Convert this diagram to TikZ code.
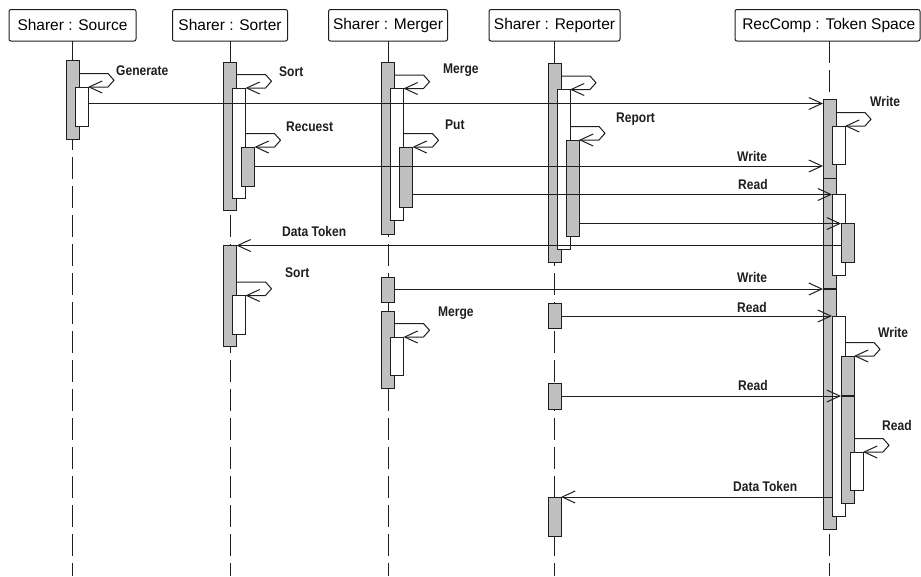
\documentclass[tikz,border=0pt]{standalone}
\usepackage{fontspec}
\setmainfont{Liberation Sans}
\newfontfamily\lblfont[FakeStretch=0.86]{Liberation Sans}
\usetikzlibrary{arrows.meta}
\definecolor{barfill}{RGB}{192,192,192}
\definecolor{ink}{RGB}{30,30,30}
\begin{document}
\begin{tikzpicture}[x=1pt,y=-1pt,
  lane/.style={draw=ink, line width=1pt, rounded corners=2pt, fill=white, minimum height=31.5pt, inner sep=0pt, outer sep=0pt, font=\fontsize{15.5}{18}\selectfont},
  gbar/.style={draw=ink, line width=1pt, fill=barfill, minimum width=13pt, inner sep=0pt, outer sep=0pt, anchor=north west},
  wbar/.style={gbar, fill=white},
  msg/.style={draw=ink, line width=1pt, -{Straight Barb[length=13pt,width=12pt]}},
  life/.style={draw=ink, line width=1pt, dash pattern=on 22pt off 7pt},
  solidlife/.style={draw=ink, line width=1pt},
  lbl/.style={anchor=base west, inner sep=0pt, font=\lblfont\bfseries\fontsize{14}{16}\selectfont, text=ink}]
\useasboundingbox (0,0) rectangle (921,576);

% headers
\node[lane, minimum width=127pt] (HS) at (72.5,25.25) {Sharer : Source};
\node[lane, minimum width=115pt] (HT) at (230,25.25) {Sharer : Sorter};
\node[lane, minimum width=119pt] (HM) at (388,25.25) {Sharer : Merger};
\node[lane, minimum width=131pt] (HR) at (554.5,25.25) {Sharer : Reporter};
\node[lane, minimum width=185pt] (HK) at (827.5,25.25) {};
\node[font=\fontsize{15.5}{18}\selectfont, inner sep=0pt] (HKt) at (828.7,25.25) {RecComp : Token Space};

% lifelines
\draw[life] (HS.south) -- (HS.south |- 0,576);
\draw[life] (HT.south) -- (HT.south |- 0,576);
\draw[life] (HM.south) -- (HM.south |- 0,576);
\draw[life] (HR.south) -- (HR.south |- 0,576);
\draw[life] (HK.south -| 829.5,0) -- (829.5,576);

% activation bars
\node[gbar, minimum height=79pt] (S1) at (66,60) {};
\node[wbar, minimum height=39pt] (S2) at (75,87) {};

\node[gbar, minimum height=148pt] (T1) at (223.5,62) {};
\node[wbar, minimum height=110pt] (T2) at (232.5,88) {};
\node[gbar, minimum height=39pt] (T3) at (241.5,147) {};
\node[gbar, minimum height=101pt] (T4) at (223.5,245.5) {};
\node[wbar, minimum height=39pt] (T5) at (232.5,295.5) {};

\node[gbar, minimum height=172pt] (M1) at (381.5,62) {};
\node[wbar, minimum height=132pt] (M2) at (390.5,88.5) {};
\node[gbar, minimum height=60pt] (M3) at (399.5,147) {};
\node[gbar, minimum height=25pt] (M4) at (381.5,277) {};
\node[gbar, minimum height=77pt] (M5) at (381.5,311) {};
\node[wbar, minimum height=38pt] (M6) at (390.5,337) {};

\node[gbar, minimum height=199pt] (R1) at (548,63) {};
\node[wbar, minimum height=160pt] (R2) at (557,89.5) {};
\node[gbar, minimum height=96pt] (R3) at (566,140) {};
\node[gbar, minimum height=25pt] (R4) at (548,303) {};
\node[gbar, minimum height=26pt] (R5) at (548,383) {};
\node[gbar, minimum height=39pt] (R6) at (548,497) {};

\node[gbar, minimum height=78.5pt] (K1) at (823,99.5) {};
\node[wbar, minimum height=38pt] (K2) at (832,126) {};
\node[gbar, minimum height=111pt] (K3) at (823,178) {};
\node[wbar, minimum height=81pt] (K4) at (832,194.5) {};
\node[gbar, minimum height=39pt] (K5) at (841,223.5) {};
\node[gbar, minimum height=240pt] (K6) at (823,289) {};
\node[wbar, minimum height=200pt] (K7) at (832,316) {};
\node[gbar, minimum height=40pt] (K8a) at (841,356) {};
\node[gbar, minimum height=107pt] (K8b) at (841,396) {};
\node[wbar, minimum height=38pt] (K9) at (850,452) {};
\draw[ink, line width=1.8pt] (K6.north west) -- (K6.north east);
\draw[ink, line width=1.8pt] (K8b.north west) -- (K8b.north east);

% solid lifeline parts above first bars
\draw[solidlife] (HS.south) -- (S1.north);
\draw[solidlife] (HT.south) -- (T1.north);
\draw[solidlife] (HM.south) -- (M1.north);
\draw[solidlife] (HR.south) -- (R1.north);

% self messages
\draw[msg] (S1.east |- 0,73.5) -- ++(29,0) -- ++(6,6.75) -- ++(-6,6.75) -- (S2.north east);
\draw[msg] (T1.east |- 0,74.5) -- ++(29,0) -- ++(6,6.75) -- ++(-6,6.75) -- (T2.north east);
\draw[msg] (T2.east |- 0,133.5) -- ++(29,0) -- ++(6,6.75) -- ++(-6,6.75) -- (T3.north east);
\draw[msg] (M1.east |- 0,75) -- ++(29,0) -- ++(6,6.75) -- ++(-6,6.75) -- (M2.north east);
\draw[msg] (M2.east |- 0,133.5) -- ++(29,0) -- ++(6,6.75) -- ++(-6,6.75) -- (M3.north east);
\draw[msg] (R1.east |- 0,76) -- ++(29,0) -- ++(6,6.75) -- ++(-6,6.75) -- (R2.north east);
\draw[msg] (R2.east |- 0,126.5) -- ++(29,0) -- ++(6,6.75) -- ++(-6,6.75) -- (R3.north east);
\draw[msg] (K1.east |- 0,112.5) -- ++(29,0) -- ++(6,6.75) -- ++(-6,6.75) -- (K2.north east);
\draw[msg] (T4.east |- 0,282) -- ++(29,0) -- ++(6,6.75) -- ++(-6,6.75) -- (T5.north east);
\draw[msg] (M5.east |- 0,323.5) -- ++(29,0) -- ++(6,6.75) -- ++(-6,6.75) -- (M6.north east);
\draw[msg] (K7.east |- 0,342.5) -- ++(29,0) -- ++(6,6.75) -- ++(-6,6.75) -- (K8a.north east);
\draw[msg] (K8b.east |- 0,438.5) -- ++(29,0) -- ++(6,6.75) -- ++(-6,6.75) -- (K9.north east);

% messages between lifelines
\draw[msg] (S2.east |- 0,103.5) -- (K1.west |- 0,103.5);
\draw[msg] (T3.east |- 0,166) -- (K1.west |- 0,166);
\draw[msg] (M3.east |- 0,194.5) -- (K4.north west);
\draw[msg] (R3.east |- 0,223.5) -- (K5.north west);
\draw[msg] (K5.west |- 0,245.5) -- (T4.north east);
\draw[msg] (M4.east |- 0,289) -- (K6.north west);
\draw[msg] (R4.east |- 0,316) -- (K7.north west);
\draw[msg] (R5.east |- 0,396) -- (K8b.north west);
\draw[msg] (K7.west |- 0,497) -- (R6.north east);

% labels
\node[lbl] (l1) at (116,75) {Generate};
\node[lbl] (l2) at (279,76) {Sort};
\node[lbl] (l3) at (286,131) {Recuest};
\node[lbl] (l4) at (443,73) {Merge};
\node[lbl] (l5) at (445,129) {Put};
\node[lbl] (l6) at (616,122.5) {Report};
\node[lbl] (l7) at (870,106.5) {Write};
\node[lbl] (l8) at (737,161) {Write};
\node[lbl] (l9) at (738,189) {Read};
\node[lbl] (l10) at (282,236) {Data Token};
\node[lbl] (l11) at (285,277) {Sort};
\node[lbl] (l12) at (737,282.5) {Write};
\node[lbl] (l13) at (737,312.5) {Read};
\node[lbl] (l14) at (438,316.5) {Merge};
\node[lbl] (l15) at (878,337) {Write};
\node[lbl] (l16) at (738,390) {Read};
\node[lbl] (l17) at (882,430) {Read};
\node[lbl] (l18) at (733,491.5) {Data Token};
\end{tikzpicture}
\end{document}
